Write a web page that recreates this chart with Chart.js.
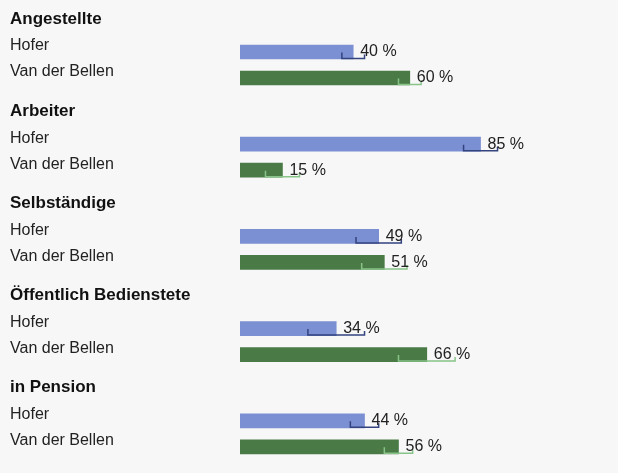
<!DOCTYPE html>
<html>
<head>
<meta charset="utf-8">
<script src="https://cdn.jsdelivr.net/npm/chart.js@4.4.0/dist/chart.umd.min.js"></script>
<style>
html, body { margin: 0; padding: 0; background: #f7f7f7; }
#wrap { position: relative; width: 618px; height: 473px; }
</style>
</head>
<body>
<div id="wrap"><canvas id="chart"></canvas></div>
<script>
const groups = ['Angestellte', 'Arbeiter', 'Selbständige', 'Öffentlich Bedienstete', 'in Pension'];
const candidates = ['Hofer', 'Van der Bellen'];
const hoferValues = [40, 85, 49, 34, 44];
const vdbValues = [60, 15, 51, 66, 56];
// +/- range shown as small bracket under each bar
const margins = [4, 6, 8, 10, 5];

const colors = {
    hofer: '#7b8fd3',
    vdb: '#4a7b47',
    hoferMark: '#33437f',
    vdbMark: '#88c488',
    heading: '#111111',
    text: '#222222'
};
const fontFamily = '"Liberation Sans", Arial, sans-serif';

// layout, in pixels from the top
const groupStep = 92.2;
const headingY = 19;
const labelY = [46, 72];
const barY = [52, 78];

const tickPos = [];
const tickText = [];
const tickBold = [];
groups.forEach((g, i) => {
    tickPos.push(headingY + i * groupStep);
    tickText.push(g);
    tickBold.push(true);
    candidates.forEach((c, k) => {
        tickPos.push(labelY[k] + i * groupStep);
        tickText.push(c);
        tickBold.push(false);
    });
});

const marksPlugin = {
    id: 'marks',
    afterDatasetsDraw(chart) {
        const ctx = chart.ctx;
        const xs = chart.scales.x;
        chart.data.datasets.forEach((ds, di) => {
            chart.getDatasetMeta(di).data.forEach((bar, i) => {
                const v = ds.data[i].x;
                const m = margins[i];
                const bottom = bar.y + bar.height / 2 - 0.5;
                const x0 = xs.getPixelForValue(v - m);
                const x1 = xs.getPixelForValue(v + m);
                ctx.save();
                ctx.strokeStyle = ds.markColor;
                ctx.lineWidth = 1.5;
                ctx.beginPath();
                ctx.moveTo(x0, bottom - 6);
                ctx.lineTo(x0, bottom);
                ctx.lineTo(x1, bottom);
                ctx.lineTo(x1, bottom - 4);
                ctx.stroke();
                ctx.fillStyle = colors.text;
                ctx.font = '16px ' + fontFamily;
                ctx.textBaseline = 'middle';
                ctx.textAlign = 'left';
                ctx.fillText(v + ' %', bar.x + 7, bar.y);
                ctx.restore();
            });
        });
    }
};

new Chart(document.getElementById('chart'), {
    type: 'bar',
    data: {
        datasets: [
            {
                label: candidates[0],
                data: hoferValues.map((v, i) => ({ x: v, y: barY[0] + i * groupStep })),
                backgroundColor: colors.hofer,
                markColor: colors.hoferMark,
                barThickness: 14,
                grouped: false
            },
            {
                label: candidates[1],
                data: vdbValues.map((v, i) => ({ x: v, y: barY[1] + i * groupStep })),
                backgroundColor: colors.vdb,
                markColor: colors.vdbMark,
                barThickness: 14,
                grouped: false
            }
        ]
    },
    options: {
        indexAxis: 'y',
        responsive: true,
        maintainAspectRatio: false,
        animation: false,
        layout: { padding: { left: 10, right: 95, top: 0, bottom: 0 } },
        plugins: { legend: { display: false }, tooltip: { enabled: false } },
        scales: {
            x: { type: 'linear', min: 0, max: 100, display: false },
            y: {
                type: 'linear',
                min: 0,
                max: 473,
                offset: false,
                reverse: true,
                grid: { display: false, offset: false },
                border: { display: false },
                afterBuildTicks: s => { s.ticks = tickPos.map(v => ({ value: v })); },
                afterFit: s => {
                    s.width = 230;
                    s.paddingTop = 0;
                    s.paddingBottom = 0;
                },
                ticks: {
                    autoSkip: false,
                    crossAlign: 'far',
                    padding: 0,
                    color: c => tickBold[c.index] ? colors.heading : colors.text,
                    font: c => tickBold[c.index]
                        ? { family: fontFamily, size: 17, weight: 'bold' }
                        : { family: fontFamily, size: 16 },
                    callback: (v, i) => tickText[i]
                }
            }
        }
    },
    plugins: [marksPlugin]
});
</script>
</body>
</html>
